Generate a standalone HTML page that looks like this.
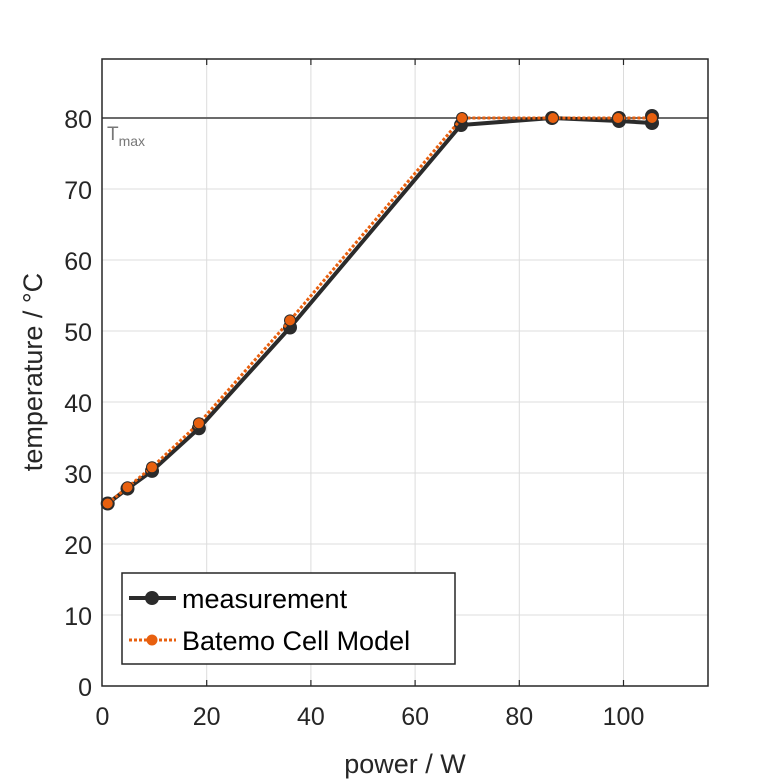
<!DOCTYPE html>
<html><head><style>body{margin:0;background:#fff}svg{display:block}text{font-family:"Liberation Sans",sans-serif}</style></head><body>
<svg width="781" height="781" xmlns="http://www.w3.org/2000/svg">
<rect width="781" height="781" fill="#fff"/>
<g stroke="#dcdcdc" stroke-width="1">
<line x1="206.7" y1="59" x2="206.7" y2="686"/><line x1="310.9" y1="59" x2="310.9" y2="686"/><line x1="415.1" y1="59" x2="415.1" y2="686"/><line x1="519.3" y1="59" x2="519.3" y2="686"/><line x1="623.5" y1="59" x2="623.5" y2="686"/>
<line x1="102" y1="615" x2="708" y2="615"/><line x1="102" y1="544" x2="708" y2="544"/><line x1="102" y1="473" x2="708" y2="473"/><line x1="102" y1="402" x2="708" y2="402"/><line x1="102" y1="331" x2="708" y2="331"/><line x1="102" y1="260" x2="708" y2="260"/><line x1="102" y1="189" x2="708" y2="189"/>
</g>
<line x1="102" y1="118" x2="708" y2="118" stroke="#6b6b6b" stroke-width="2"/>
<text x="107" y="140" font-size="19" fill="#777">T<tspan font-size="14" dy="6">max</tspan></text>
<rect x="102" y="59" width="606" height="627" fill="none" stroke="#262626" stroke-width="1.5"/>
<g stroke="#262626" stroke-width="1.2">
<line x1="206.7" y1="686" x2="206.7" y2="680"/><line x1="310.9" y1="686" x2="310.9" y2="680"/><line x1="415.1" y1="686" x2="415.1" y2="680"/><line x1="519.3" y1="686" x2="519.3" y2="680"/><line x1="623.5" y1="686" x2="623.5" y2="680"/>
<line x1="206.7" y1="59" x2="206.7" y2="65"/><line x1="310.9" y1="59" x2="310.9" y2="65"/><line x1="415.1" y1="59" x2="415.1" y2="65"/><line x1="519.3" y1="59" x2="519.3" y2="65"/><line x1="623.5" y1="59" x2="623.5" y2="65"/>
</g>
<polyline fill="none" stroke="#2b2b2b" stroke-width="4" points="107.7,503.5 127.5,488.6 152,470.9 198.9,428.3 290,327.5 461,125 552,118 619,121 652,123"/>
<line x1="652" y1="116" x2="652" y2="124" stroke="#2b2b2b" stroke-width="4"/>
<g fill="#2b2b2b">
<circle cx="107.7" cy="503.5" r="7"/><circle cx="127.5" cy="488.6" r="7"/><circle cx="152" cy="470.9" r="7"/><circle cx="198.9" cy="428.3" r="7"/><circle cx="290" cy="327.5" r="7"/><circle cx="461" cy="125" r="7"/><circle cx="552" cy="118" r="7"/><circle cx="619" cy="121" r="7"/><circle cx="652" cy="123" r="7"/><circle cx="652" cy="116" r="7"/><circle cx="619" cy="118" r="7"/>
</g>
<polyline fill="none" stroke="#e8600f" stroke-width="3" stroke-dasharray="3,2" points="107.7,503.5 127.5,487.2 152,467.3 198.9,423.3 290,320.4 462,118 553,118 618,118 652,118"/>
<g fill="#e8600f" stroke="#2b2b2b" stroke-width="1">
<circle cx="107.7" cy="503.5" r="5.5"/><circle cx="127.5" cy="487.2" r="5.5"/><circle cx="152" cy="467.3" r="5.5"/><circle cx="198.9" cy="423.3" r="5.5"/><circle cx="290" cy="320.4" r="5.5"/><circle cx="462" cy="118" r="5.5"/><circle cx="553" cy="118" r="5.5"/><circle cx="618" cy="118" r="5.5"/><circle cx="652" cy="118" r="5.5"/>
</g>
<g font-size="25" fill="#262626" text-anchor="end">
<text x="92" y="696">0</text><text x="92" y="625">10</text><text x="92" y="554">20</text><text x="92" y="483">30</text><text x="92" y="412">40</text><text x="92" y="341">50</text><text x="92" y="270">60</text><text x="92" y="199">70</text><text x="92" y="128">80</text>
</g>
<g font-size="25" fill="#262626" text-anchor="middle">
<text x="102.5" y="725">0</text><text x="206.7" y="725">20</text><text x="310.9" y="725">40</text><text x="415.1" y="725">60</text><text x="519.3" y="725">80</text><text x="623.5" y="725">100</text>
</g>
<text x="405" y="773" font-size="27" fill="#262626" text-anchor="middle">power / W</text>
<text transform="translate(42,372) rotate(-90)" font-size="27" fill="#262626" text-anchor="middle">temperature / °C</text>
<rect x="122" y="573" width="333" height="91" fill="#fff" stroke="#262626" stroke-width="1.5"/>
<line x1="129" y1="598" x2="176" y2="598" stroke="#2b2b2b" stroke-width="4"/><circle cx="152" cy="598" r="7" fill="#2b2b2b"/>
<line x1="129" y1="640" x2="176" y2="640" stroke="#e8600f" stroke-width="3" stroke-dasharray="3,2"/><circle cx="152" cy="640" r="5.5" fill="#e8600f"/>
<text x="182" y="608" font-size="27" fill="#000">measurement</text>
<text x="182" y="650" font-size="27" fill="#000">Batemo Cell Model</text>
</svg>
</body></html>
